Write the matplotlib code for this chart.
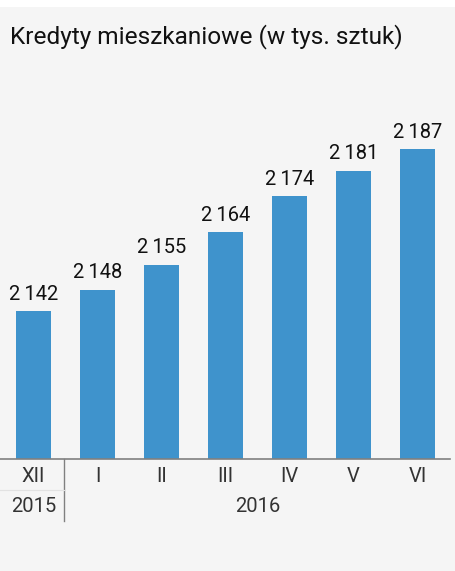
import matplotlib.pyplot as plt
from matplotlib.patches import Rectangle

# data
months = ['XII', 'I', 'II', 'III', 'IV', 'V', 'VI']
values = [2142, 2148, 2155, 2164, 2174, 2181, 2187]
years = ['2015', '2016']
title = 'Kredyty mieszkaniowe (w tys. sztuk)'

W, H = 455, 571
bar_color = '#3f93cc'
bg = '#f5f5f5'
lab_font = ['Roboto', 'DejaVu Sans']

fig = plt.figure(figsize=(W / 100, H / 100), dpi=100)
fig.patch.set_facecolor('white')
# grey panel below thin white strip
fig.patches.append(Rectangle((0, 0), 1, (H - 7) / H, transform=fig.transFigure,
                             facecolor=bg, edgecolor='none', zorder=-10))

fig.text(10 / W, (H - 43) / H, title, fontsize=17.6, family=['Roboto', 'DejaVu Sans'],
         color='#111111', va='baseline', ha='left')

ax = fig.add_axes([0, (H - 459) / H, 450 / W, 360 / H])
ax.set_facecolor('none')
x = list(range(len(months)))
ax.bar(x, values, width=35 / 64, color=bar_color, zorder=2)
ax.set_xlim(-33.5 / 64, (450 - 33.5) / 64)
ax.set_ylim(2101, 2201)

for xi, v in zip(x, values):
    s = f'{v:,}'.replace(',', '\u2009')
    ax.annotate(s, (xi, v), xytext=(0, 5.5), textcoords='offset points',
                ha='center', va='bottom', fontsize=14.5, family=lab_font,
                color='#111111')

for s in ['top', 'right', 'left']:
    ax.spines[s].set_visible(False)
ax.spines['bottom'].set_color('#808080')
ax.spines['bottom'].set_linewidth(1.2)
ax.set_xticks([])
ax.set_yticks([])

# category rows below the axis
tr = ax.get_xaxis_transform()
def ypix(p):
    # pixel row from top of figure -> axes fraction
    return (H - p - (H - 459)) / 360.0

for xi, m in zip(x, months):
    ax.text(xi, ypix(477), m, transform=tr, ha='center', va='center',
            fontsize=14.5, family=lab_font, color='#333333', clip_on=False)
ax.text(0, ypix(507), years[0], transform=tr, ha='center', va='center',
        fontsize=14.5, family=lab_font, color='#333333', clip_on=False)
ax.text((1 + len(months) - 1) / 2, ypix(507), years[1], transform=tr, ha='center',
        va='center', fontsize=14.5, family=lab_font, color='#333333', clip_on=False)

# separators
ax.plot([0.48, 0.48], [0, ypix(521)], transform=tr, color='#808080', lw=1.0,
        clip_on=False)
ax.plot([-33.5 / 64, 0.48], [ypix(490), ypix(490)], transform=tr, color='#e2e2e2',
        lw=0.8, clip_on=False)

fig.savefig('out.png', dpi=100, facecolor=fig.get_facecolor())
